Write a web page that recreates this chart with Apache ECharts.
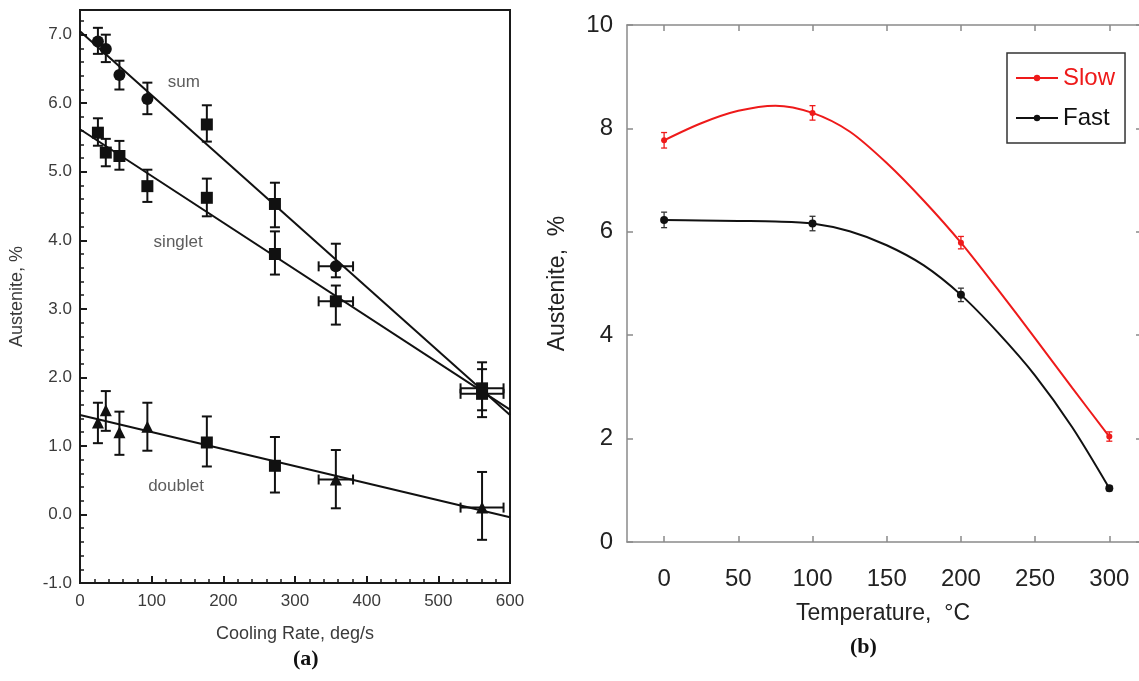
<!DOCTYPE html>
<html>
<head>
<meta charset="utf-8">
<script src="https://cdn.jsdelivr.net/npm/echarts@6/dist/echarts.min.js"></script>
<style>
html,body{margin:0;padding:0;background:#fff;}
#chart{width:1139px;height:681px;}
</style>
</head>
<body>
<div id="chart"></div>
<script>
// ---------- Panel (a) data ----------
const rateX      = [25, 36, 55, 94, 177, 272, 357, 561];
const rateErr    = [0, 0, 0, 0, 0, 0, 24, 30];
const sumY       = [6.90, 6.79, 6.41, 6.06, 5.69, 4.53, 3.62, 1.84];
const sumLo      = [6.72, 6.60, 6.20, 5.84, 5.44, 4.19, 3.46, 1.42];
const sumHi      = [7.10, 7.00, 6.62, 6.30, 5.97, 4.84, 3.95, 2.22];
const sumShape   = ['circle','circle','circle','circle','rect','rect','circle','rect'];
const singletY   = [5.57, 5.28, 5.23, 4.79, 4.62, 3.80, 3.11, 1.76];
const singletLo  = [5.38, 5.08, 5.03, 4.56, 4.35, 3.50, 2.77, 1.52];
const singletHi  = [5.78, 5.48, 5.45, 5.03, 4.90, 4.13, 3.34, 2.12];
const doubletY   = [1.34, 1.52, 1.20, 1.28, 1.05, 0.71, 0.51, 0.10];
const doubletLo  = [1.04, 1.22, 0.87, 0.93, 0.70, 0.32, 0.09, -0.37];
const doubletHi  = [1.63, 1.80, 1.50, 1.63, 1.43, 1.13, 0.94, 0.62];
const doubletShape = ['triangle','triangle','triangle','triangle','rect','rect','triangle','triangle'];
// fitted straight lines (end points)
const sumFit     = [[0, 7.05], [600, 1.45]];
const singletFit = [[0, 5.62], [600, 1.53]];
const doubletFit = [[0, 1.45], [600, -0.04]];

// ---------- Panel (b) data ----------
const tempX   = [0, 100, 200, 300];
const slowY   = [7.77, 8.30, 5.79, 2.04];
const slowErr = [0.15, 0.14, 0.12, 0.09];
const fastY   = [6.23, 6.16, 4.78, 1.04];
const fastErr = [0.15, 0.14, 0.13, 0.05];
// smooth curves
const curveX     = [0, 25, 50, 75, 100, 125, 150, 175, 200, 225, 250, 275, 300];
const slowCurve  = [7.77, 8.10, 8.34, 8.44, 8.30, 7.94, 7.33, 6.60, 5.79, 4.88, 3.94, 2.98, 2.04];
const fastCurve  = [6.23, 6.22, 6.21, 6.20, 6.16, 6.01, 5.74, 5.35, 4.78, 4.05, 3.22, 2.22, 1.04];
const xTicksB    = [0, 50, 100, 150, 200, 250, 300];

const FONT = "'Liberation Sans', Arial, Helvetica, sans-serif";
const RED = '#ee1a1a';

function errRenderer(capHalf, color, lw) {
  return function (params, api) {
    const x = api.value(0), y = api.value(1), lo = api.value(2), hi = api.value(3), xe = api.value(4);
    const pLo = api.coord([x, lo]), pHi = api.coord([x, hi]);
    const st = { stroke: color, lineWidth: lw };
    const ch = [
      { type: 'line', shape: { x1: pLo[0], y1: pLo[1], x2: pHi[0], y2: pHi[1] }, style: st },
      { type: 'line', shape: { x1: pLo[0] - capHalf, y1: pLo[1], x2: pLo[0] + capHalf, y2: pLo[1] }, style: st },
      { type: 'line', shape: { x1: pHi[0] - capHalf, y1: pHi[1], x2: pHi[0] + capHalf, y2: pHi[1] }, style: st }
    ];
    if (xe > 0) {
      const pL = api.coord([x - xe, y]), pR = api.coord([x + xe, y]);
      ch.push({ type: 'line', shape: { x1: pL[0], y1: pL[1], x2: pR[0], y2: pR[1] }, style: st });
      ch.push({ type: 'line', shape: { x1: pL[0], y1: pL[1] - capHalf, x2: pL[0], y2: pL[1] + capHalf }, style: st });
      ch.push({ type: 'line', shape: { x1: pR[0], y1: pR[1] - capHalf, x2: pR[0], y2: pR[1] + capHalf }, style: st });
    }
    return { type: 'group', children: ch };
  };
}

function errData(xs, ys, lo, hi, xe) {
  return xs.map((x, i) => [x, ys[i], lo[i], hi[i], xe ? xe[i] : 0]);
}

const chart = echarts.init(document.getElementById('chart'), null, { renderer: 'canvas' });

const axisA = { color: '#1a1a1a', width: 2 };
const labelA = { fontFamily: FONT, fontSize: 17, color: '#3a3a3a' };
const axisBLine = { onZero: false, lineStyle: { color: '#8a8a8a', width: 1.5 } };
const axisBTick = { inside: true, length: 6, lineStyle: { color: '#8a8a8a', width: 1.5 } };

const option = {
  backgroundColor: '#ffffff',
  animation: false,
  textStyle: { fontFamily: FONT },
  grid: [
    { left: 80, top: 10, width: 430, height: 573, show: true, borderColor: '#1a1a1a', borderWidth: 2, backgroundColor: 'transparent', containLabel: false },
    { left: 627, top: 25, width: 512, height: 517, containLabel: false }
  ],
  xAxis: [
    {
      gridIndex: 0, type: 'value', min: 0, max: 600, interval: 100,
      axisLine: { onZero: false, lineStyle: axisA },
      axisTick: { inside: true, length: 7, lineStyle: axisA },
      minorTick: { show: true, splitNumber: 5, length: 4, lineStyle: { color: '#1a1a1a', width: 1.5 } },
      axisLabel: Object.assign({ margin: 10 }, labelA),
      splitLine: { show: false },
      name: 'Cooling Rate, deg/s', nameLocation: 'middle', nameGap: 42,
      nameTextStyle: { fontFamily: FONT, fontSize: 18, color: '#3a3a3a' }
    },
    {
      gridIndex: 1, type: 'value', min: -25, max: 320,
      axisLine: axisBLine,
      axisTick: Object.assign({ customValues: xTicksB }, axisBTick),
      axisLabel: { customValues: xTicksB, fontFamily: FONT, fontSize: 24, color: '#222', margin: 25 },
      splitLine: { show: false },
      name: 'Temperature,  \u00B0C', nameLocation: 'middle', nameGap: 60,
      nameTextStyle: { fontFamily: FONT, fontSize: 23, color: '#222' }
    },
    {
      gridIndex: 1, type: 'value', min: -25, max: 320, position: 'top',
      axisLine: axisBLine,
      axisTick: Object.assign({ customValues: xTicksB }, axisBTick),
      axisLabel: { show: false },
      splitLine: { show: false }
    }
  ],
  yAxis: [
    {
      gridIndex: 0, type: 'value', min: -1, max: 7.36, interval: 1,
      axisLine: { onZero: false, lineStyle: axisA },
      axisTick: { inside: true, length: 7, lineStyle: axisA },
      minorTick: { show: true, splitNumber: 5, length: 4, lineStyle: { color: '#1a1a1a', width: 1.5 } },
      axisLabel: Object.assign({ margin: 8, showMaxLabel: false, formatter: v => v.toFixed(1) }, labelA),
      splitLine: { show: false },
      name: 'Austenite, %', nameLocation: 'middle', nameGap: 54, nameRotate: 90,
      nameTextStyle: { fontFamily: FONT, fontSize: 18, color: '#3a3a3a' }
    },
    {
      gridIndex: 1, type: 'value', min: 0, max: 10, interval: 2,
      axisLine: axisBLine,
      axisTick: axisBTick,
      axisLabel: { fontFamily: FONT, fontSize: 24, color: '#222', margin: 14 },
      splitLine: { show: false },
      name: 'Austenite,  %', nameLocation: 'middle', nameGap: 58, nameRotate: 90,
      nameTextStyle: { fontFamily: FONT, fontSize: 23, color: '#222' }
    },
    {
      gridIndex: 1, type: 'value', min: 0, max: 10, interval: 2, position: 'right',
      axisLine: { show: false, onZero: false },
      axisTick: { show: true, inside: true, length: 3, lineStyle: { color: '#8a8a8a', width: 1.5 } },
      axisLabel: { show: false },
      splitLine: { show: false }
    }
  ],
  legend: {
    data: [
      { name: 'Slow', textStyle: { color: RED } },
      { name: 'Fast', textStyle: { color: '#111' } }
    ],
    orient: 'vertical', left: 1007, top: 53,
    borderColor: '#333', borderWidth: 1.5, borderRadius: 0,
    padding: [13, 10, 13, 8], itemGap: 16, itemWidth: 42, itemHeight: 8,
    textStyle: { fontFamily: FONT, fontSize: 24 },
    selectedMode: false
  },
  graphic: [
    { type: 'text', left: 293, top: 648, style: { text: '(a)', font: "bold 22px 'Liberation Serif', 'Times New Roman', serif", fill: '#111' } },
    { type: 'text', left: 850, top: 636, style: { text: '(b)', font: "bold 22px 'Liberation Serif', 'Times New Roman', serif", fill: '#111' } }
  ],
  series: [
    // ---- panel (a) fitted lines
    { type: 'line', xAxisIndex: 0, yAxisIndex: 0, data: sumFit, symbol: 'none', lineStyle: { color: '#111', width: 2 }, silent: true },
    { type: 'line', xAxisIndex: 0, yAxisIndex: 0, data: singletFit, symbol: 'none', lineStyle: { color: '#111', width: 2 }, silent: true },
    { type: 'line', xAxisIndex: 0, yAxisIndex: 0, data: doubletFit, symbol: 'none', lineStyle: { color: '#111', width: 2 }, silent: true },
    // ---- panel (a) error bars
    { type: 'custom', xAxisIndex: 0, yAxisIndex: 0, renderItem: errRenderer(5, '#111', 2), data: errData(rateX, sumY, sumLo, sumHi, rateErr), encode: { x: 0, y: 1 }, silent: true, z: 3 },
    { type: 'custom', xAxisIndex: 0, yAxisIndex: 0, renderItem: errRenderer(5, '#111', 2), data: errData(rateX, singletY, singletLo, singletHi, rateErr), encode: { x: 0, y: 1 }, silent: true, z: 3 },
    { type: 'custom', xAxisIndex: 0, yAxisIndex: 0, renderItem: errRenderer(5, '#111', 2), data: errData(rateX, doubletY, doubletLo, doubletHi, rateErr), encode: { x: 0, y: 1 }, silent: true, z: 3 },
    // ---- panel (a) markers
    { type: 'scatter', xAxisIndex: 0, yAxisIndex: 0, symbolSize: 12, itemStyle: { color: '#111', opacity: 1 }, z: 4,
      data: rateX.map((x, i) => ({ value: [x, sumY[i]], symbol: sumShape[i] })) },
    { type: 'scatter', xAxisIndex: 0, yAxisIndex: 0, symbol: 'rect', symbolSize: 12, itemStyle: { color: '#111', opacity: 1 }, z: 4,
      data: rateX.map((x, i) => [x, singletY[i]]) },
    { type: 'scatter', xAxisIndex: 0, yAxisIndex: 0, symbolSize: 12, itemStyle: { color: '#111', opacity: 1 }, z: 4,
      data: rateX.map((x, i) => ({ value: [x, doubletY[i]], symbol: doubletShape[i] })) },
    // ---- panel (a) annotations
    { type: 'scatter', xAxisIndex: 0, yAxisIndex: 0, symbolSize: 0, silent: true, z: 5,
      label: { show: true, position: 'inside', formatter: p => p.name, fontFamily: FONT, fontSize: 17, color: '#333' },
      data: [
        { name: 'sum', value: [145, 6.30] },
        { name: 'singlet', value: [137, 3.97] },
        { name: 'doublet', value: [134, 0.41] }
      ] },
    // ---- panel (b) curves
    { name: 'Slow', type: 'line', xAxisIndex: 1, yAxisIndex: 1, smooth: 0.3, showSymbol: false, symbol: 'circle', symbolSize: 6,
      data: curveX.map((x, i) => [x, slowCurve[i]]), lineStyle: { color: RED, width: 2 }, itemStyle: { color: RED } },
    { name: 'Fast', type: 'line', xAxisIndex: 1, yAxisIndex: 1, smooth: 0.3, showSymbol: false, symbol: 'circle', symbolSize: 6,
      data: curveX.map((x, i) => [x, fastCurve[i]]), lineStyle: { color: '#111', width: 2 }, itemStyle: { color: '#111' } },
    // ---- panel (b) error bars + points
    { type: 'custom', xAxisIndex: 1, yAxisIndex: 1, renderItem: errRenderer(3, RED, 1.3), silent: true, z: 3, encode: { x: 0, y: 1 },
      data: errData(tempX, slowY, slowY.map((v, i) => v - slowErr[i]), slowY.map((v, i) => v + slowErr[i])) },
    { type: 'custom', xAxisIndex: 1, yAxisIndex: 1, renderItem: errRenderer(3, '#333', 1.3), silent: true, z: 3, encode: { x: 0, y: 1 },
      data: errData(tempX, fastY, fastY.map((v, i) => v - fastErr[i]), fastY.map((v, i) => v + fastErr[i])) },
    { type: 'scatter', xAxisIndex: 1, yAxisIndex: 1, symbol: 'circle', symbolSize: 6, itemStyle: { color: RED, opacity: 1 }, z: 4,
      data: tempX.map((x, i) => [x, slowY[i]]) },
    { type: 'scatter', xAxisIndex: 1, yAxisIndex: 1, symbol: 'circle', symbolSize: 8, itemStyle: { color: '#111', opacity: 1 }, z: 4,
      data: tempX.map((x, i) => [x, fastY[i]]) }
  ]
};

chart.setOption(option);
</script>
</body>
</html>
